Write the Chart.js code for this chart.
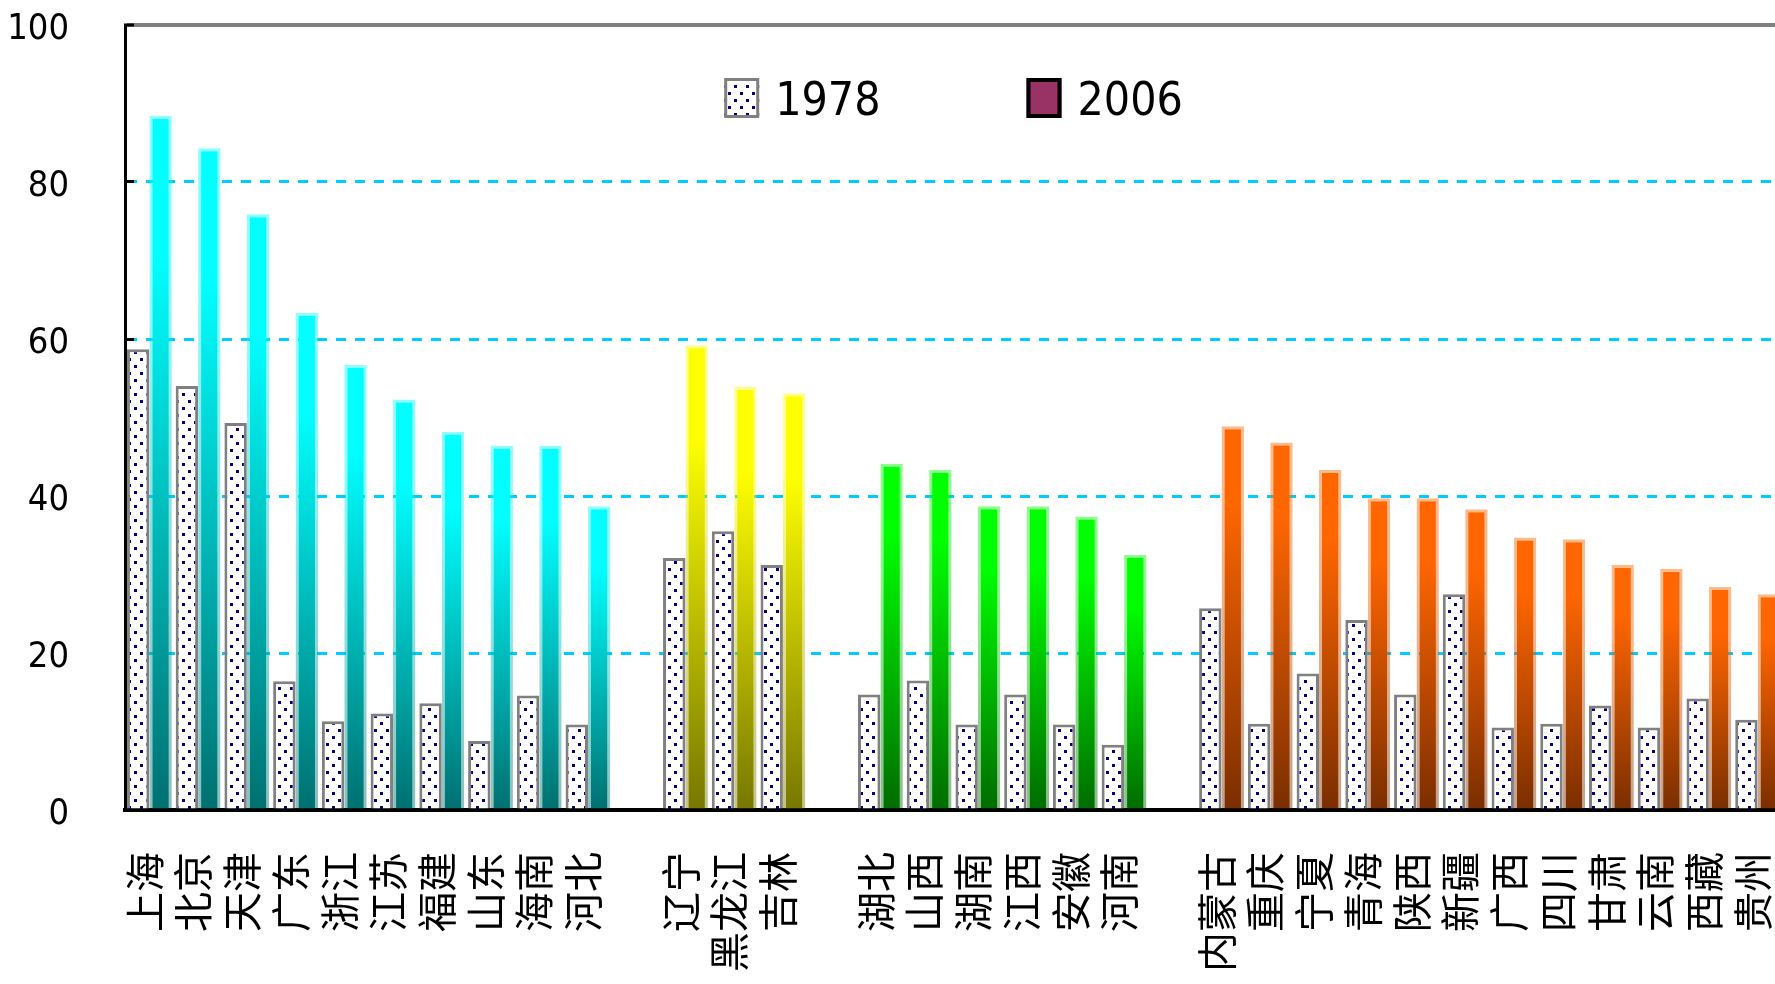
<!DOCTYPE html>
<html>
<head>
<meta charset="utf-8">
<script src="https://cdn.jsdelivr.net/npm/chart.js@4.4.1/dist/chart.umd.min.js"></script>
<style>
    html, body { margin: 0; padding: 0; background: #fff; overflow: hidden; }
    #wrap { width: 1800px; height: 984px; }
</style>
</head>
<body>
<div id="wrap"><canvas id="chart" width="1800" height="984"></canvas></div>
<script>
// blank strings separate the four regions
const categories = [
    '上海', '北京', '天津', '广东', '浙江', '江苏', '福建', '山东', '海南', '河北', '',
    '辽宁', '黑龙江', '吉林', '',
    '湖北', '山西', '湖南', '江西', '安徽', '河南', '',
    '内蒙古', '重庆', '宁夏', '青海', '陕西', '新疆', '广西', '四川', '甘肃', '云南', '西藏', '贵州'
];
const regions = [
    'east', 'east', 'east', 'east', 'east', 'east', 'east', 'east', 'east', 'east', '',
    'northeast', 'northeast', 'northeast', '',
    'central', 'central', 'central', 'central', 'central', 'central', '',
    'west', 'west', 'west', 'west', 'west', 'west', 'west', 'west', 'west', 'west', 'west', 'west'
];
const values1978 = [
    58.7, 54.0, 49.3, 16.4, 11.3, 12.3, 13.6, 8.8, 14.6, 10.9, null,
    32.1, 35.5, 31.2, null,
    14.7, 16.5, 10.9, 14.7, 10.9, 8.3, null,
    25.7, 11.0, 17.4, 24.2, 14.7, 27.5, 10.5, 11.0, 13.3, 10.5, 14.2, 11.5
];
const values2006 = [
    88.4, 84.3, 75.9, 63.3, 56.7, 52.3, 48.2, 46.4, 46.4, 38.7, null,
    59.2, 53.9, 53.1, null,
    44.1, 43.3, 38.7, 38.7, 37.4, 32.5, null,
    48.9, 46.8, 43.3, 39.7, 39.7, 38.3, 34.7, 34.5, 31.2, 30.7, 28.4, 27.5
];
const seriesLabels = ['1978', '2006'];
const yTicks = [0, 20, 40, 60, 80, 100];

// top / bottom colour of the 2006 bar gradient per region
const regionColors = {
    east: [[0, 255, 255], [0, 112, 112]],
    northeast: [[255, 255, 0], [119, 119, 0]],
    central: [[0, 255, 0], [0, 108, 0]],
    west: [[255, 102, 0], [122, 46, 0]]
};

const numFont = '"Liberation Sans Narrow", "DejaVu Sans Condensed", sans-serif';

function dotPattern() {
    const c = document.createElement('canvas');
    c.width = 12;
    c.height = 14;
    const g = c.getContext('2d');
    g.fillStyle = '#ffffff';
    g.fillRect(0, 0, 12, 14);
    g.fillStyle = '#000080';
    g.fillRect(2, 1, 3, 3);
    g.fillRect(8, 8, 3, 3);
    return g.createPattern(c, 'repeat');
}
const dots = dotPattern();

function rgba(c, a) {
    return `rgba(${c[0]},${c[1]},${c[2]},${a})`;
}

function barGradient(ctx, alpha) {
    const cols = regionColors[regions[ctx.dataIndex]] || regionColors.east;
    const chart = ctx.chart;
    const y = chart.scales.y;
    if (ctx.type !== 'data' || !y || ctx.raw == null) return rgba(cols[0], alpha);
    const top = y.getPixelForValue(ctx.raw);
    const base = y.getPixelForValue(0);
    if (!Number.isFinite(top) || !Number.isFinite(base) || top === base) return rgba(cols[0], alpha);
    const g = chart.ctx.createLinearGradient(0, top, 0, base);
    g.addColorStop(0, rgba(cols[0], alpha));
    g.addColorStop(0.2, rgba(cols[0], alpha));
    g.addColorStop(1, rgba(cols[1], alpha));
    return g;
}

// no extra room for edge labels: the plot runs to the set padding
function noEdgePadding(s) {
    s.paddingTop = 0;
    s.paddingBottom = 0;
    s.paddingLeft = 0;
    s.paddingRight = 0;
}

// legend drawn inside the plot, like the original
const legendSwatches = [
    { fill: dots, stroke: '#808080', width: 3 },
    { fill: '#993366', stroke: '#000000', width: 4 }
];

const boxLegend = {
    id: 'boxLegend',
    afterDraw(chart) {
        const { ctx, chartArea } = chart;
        const labels = chart.data.datasets.map(d => d.label);
        const boxW = 35, boxH = 40, gap = 16, itemGap = 146;
        ctx.save();
        ctx.font = '46px ' + numFont;
        const widths = labels.map(t => ctx.measureText(t).width);
        let total = (labels.length - 1) * itemGap;
        widths.forEach(w => { total += boxW + gap + w; });
        let x = (chartArea.left + chartArea.right) / 2 - total / 2;
        const top = chartArea.top + 53;
        labels.forEach((t, i) => {
            const s = legendSwatches[i];
            ctx.fillStyle = s.fill;
            ctx.fillRect(x, top, boxW, boxH);
            ctx.lineWidth = s.width;
            ctx.strokeStyle = s.stroke;
            ctx.strokeRect(x + s.width / 2, top + s.width / 2, boxW - s.width, boxH - s.width);
            ctx.fillStyle = '#000';
            ctx.textBaseline = 'alphabetic';
            ctx.textAlign = 'left';
            ctx.fillText(t, x + boxW + gap, top + boxH - 3);
            x += boxW + gap + widths[i] + itemGap;
        });
        ctx.restore();
    }
};

new Chart(document.getElementById('chart'), {
    type: 'bar',
    data: {
        labels: categories,
        datasets: [
            {
                label: seriesLabels[0],
                data: values1978,
                backgroundColor: dots,
                borderColor: '#808080',
                borderWidth: { top: 3, left: 3, right: 3, bottom: 0 }
            },
            {
                label: seriesLabels[1],
                data: values2006,
                backgroundColor: ctx => barGradient(ctx, 1),
                borderColor: ctx => barGradient(ctx, 0.45),
                borderWidth: { top: 3, left: 3, right: 3, bottom: 0 }
            }
        ]
    },
    options: {
        responsive: false,
        animation: false,
        devicePixelRatio: 1,
        categoryPercentage: 0.92,
        barPercentage: 1,
        layout: { padding: { top: 25, right: 18, left: 0, bottom: 0 } },
        plugins: {
            legend: { display: false },
            tooltip: { enabled: false }
        },
        scales: {
            x: {
                z: 1,
                grid: { display: false, drawTicks: false, tickLength: 0 },
                border: { display: true, color: '#000', width: 4 },
                ticks: {
                    autoSkip: false,
                    minRotation: 90,
                    maxRotation: 90,
                    padding: 42,
                    labelOffset: -5,
                    color: '#000',
                    font: { family: '"Noto Sans CJK SC", sans-serif', size: 40 }
                },
                afterFit: s => {
                    s.height = 174;
                    noEdgePadding(s);
                }
            },
            y: {
                min: 0,
                max: 100,
                afterBuildTicks: s => { s.ticks = yTicks.map(v => ({ value: v })); },
                grid: {
                    color: c => c.tick && c.tick.value === 100 ? '#808080'
                        : (c.tick && c.tick.value === 0 ? 'rgba(0,0,0,0)' : '#00CCFF'),
                    lineWidth: c => c.tick && c.tick.value === 100 ? 4 : 3,
                    drawTicks: true,
                    tickLength: -9,
                    tickColor: '#000',
                    tickWidth: 3
                },
                border: {
                    display: true,
                    color: '#000',
                    width: 3,
                    dash: c => c.tick && c.tick.value === 100 ? [] : [10, 9]
                },
                ticks: {
                    padding: 65,
                    labelOffset: 5,
                    color: '#000',
                    font: { family: numFont, size: 36 }
                },
                afterFit: s => {
                    s.width = 125;
                    noEdgePadding(s);
                }
            }
        }
    },
    plugins: [boxLegend]
});
</script>
</body>
</html>
